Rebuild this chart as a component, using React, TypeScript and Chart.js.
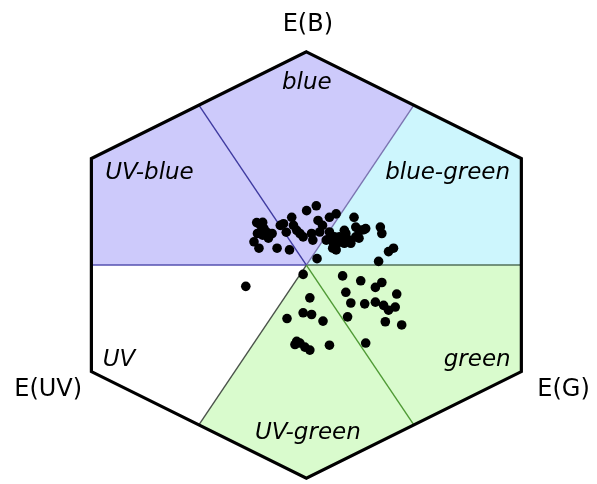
import React, { useEffect, useRef } from "react";
import { Chart, registerables } from "chart.js";

Chart.register(...registerables);

// Colour-hexagon coordinates: x = sin60*(E_G - E_UV), y = E_B - 0.5*(E_G + E_UV)
const pointsX = [
  -0.200, -0.184, -0.171, -0.161, -0.197, -0.211, -0.191, -0.138, -0.118, -0.068,
  -0.092, -0.059, -0.052, -0.039, -0.026, -0.013, 0.001, 0.040, 0.047, 0.021,
  0.054, 0.093, 0.120, 0.080, 0.106, 0.120, 0.133, 0.159, 0.153, 0.172,
  0.192, 0.199, 0.212, 0.232, 0.199, 0.179, 0.298, 0.304, 0.331, 0.351,
  0.291, 0.043, 0.093, 0.113, 0.093, 0.140, 0.219, 0.239, 0.106, -0.105,
  -0.176, 0.026, 0.153, 0.125, 0.212, -0.176, -0.153, -0.081, 0.065,
  -0.244, -0.013, 0.014, -0.078, -0.013, 0.021, 0.067, -0.039, -0.046, -0.006,
  0.014, 0.093, 0.146, 0.219, 0.304, 0.278, 0.159, 0.179, 0.235, 0.278,
  0.311, 0.331, 0.364, 0.358, 0.166, 0.318, 0.384, 0.239, -0.026,
];
const pointsY = [
  0.199, 0.186, 0.171, 0.155, 0.148, 0.109, 0.079, 0.148, 0.079, 0.071,
  0.194, 0.224, 0.186, 0.163, 0.148, 0.132, 0.255, 0.278, 0.209, 0.148,
  0.155, 0.224, 0.240, 0.117, 0.109, 0.071, 0.132, 0.148, 0.102, 0.117,
  0.224, 0.178, 0.163, 0.166, 0.132, 0.102, 0.178, 0.148, 0.063, 0.079,
  0.017, 0.030, 0.155, 0.132, 0.125, 0.125, 0.163, 0.171, 0.079, 0.186,
  0.140, 0.117, 0.163, 0.103, 0.126, 0.200, 0.126, 0.154, 0.186,
  -0.100, -0.044, -0.154, -0.251, -0.224, -0.232, -0.263, -0.358, -0.373, -0.385,
  -0.399, -0.376, -0.051, -0.074, -0.082, -0.105, -0.128, -0.178, -0.182, -0.174,
  -0.189, -0.212, -0.136, -0.197, -0.243, -0.266, -0.281, -0.366, -0.366,
];

// Hexagon vertices (top, upper-right, lower-right, bottom, lower-left, upper-left)
const hexX = [0, 0.866, 0.866, 0, -0.866, -0.866];
const hexY = [1, 0.5, -0.5, -1, -0.5, 0.5];

// Sector boundaries: edge midpoints (right, upper-right, upper-left, left, lower-left, lower-right)
const midX = [0.866, 0.433, -0.433, -0.866, -0.433, 0.433];
const midY = [0, 0.75, 0.75, 0, -0.75, -0.75];
const dividerColors = ["#52705a", "#7a74b0", "#3e3aa0", "#5450b0", "#4a524a", "#4f9a35"];

// Sectors: [start midpoint index, vertex index, end midpoint index]
const sectorNames = ["blue-green", "blue", "UV-blue", "UV", "UV-green", "green"];
const sectorStart = [0, 1, 2, 3, 4, 5];
const sectorVertex = [1, 0, 5, 4, 3, 2];
const sectorEnd = [1, 2, 3, 4, 5, 0];
const sectorColors = ["#cdf6fd", "#cdcafb", "#cdcafb", "#ffffff", "#d9fbcd", "#d9fbcd"];

const sectorLabels = ["blue", "UV-blue", "blue-green", "UV", "green", "UV-green"];
const sectorLabelX = [0.002, -0.632, 0.569, -0.755, 0.688, 0.006];
const sectorLabelY = [0.853, 0.43, 0.43, -0.444, -0.444, -0.789];

const axisLabels = ["E(B)", "E(UV)", "E(G)"];
const axisLabelX = [0.006, -1.04, 1.036];
const axisLabelY = [1.129, -0.586, -0.586];

const hexPlugin = {
  id: "hexBackground",
  beforeDatasetsDraw(chart: any) {
    const { ctx, scales } = chart;
    const sx = (v: number) => scales.x.getPixelForValue(v);
    const sy = (v: number) => scales.y.getPixelForValue(v);
    const cx = sx(0);
    const cy = sy(0);
    ctx.save();
    for (let i = 0; i < sectorNames.length; i++) {
      const a = sectorStart[i];
      const v = sectorVertex[i];
      const b = sectorEnd[i];
      ctx.beginPath();
      ctx.moveTo(cx, cy);
      ctx.lineTo(sx(midX[a]), sy(midY[a]));
      ctx.lineTo(sx(hexX[v]), sy(hexY[v]));
      ctx.lineTo(sx(midX[b]), sy(midY[b]));
      ctx.closePath();
      ctx.fillStyle = sectorColors[i];
      ctx.fill();
    }
    ctx.lineWidth = 1.4;
    for (let i = 0; i < midX.length; i++) {
      ctx.beginPath();
      ctx.moveTo(cx, cy);
      ctx.lineTo(sx(midX[i]), sy(midY[i]));
      ctx.strokeStyle = dividerColors[i];
      ctx.stroke();
    }
    ctx.beginPath();
    for (let i = 0; i < hexX.length; i++) {
      const px = sx(hexX[i]);
      const py = sy(hexY[i]);
      if (i === 0) ctx.moveTo(px, py);
      else ctx.lineTo(px, py);
    }
    ctx.closePath();
    ctx.lineWidth = 3.2;
    ctx.lineJoin = "miter";
    ctx.strokeStyle = "#000000";
    ctx.stroke();
    ctx.textAlign = "center";
    ctx.textBaseline = "middle";
    ctx.fillStyle = "#000000";
    ctx.font = "italic 23px 'DejaVu Sans'";
    for (let i = 0; i < sectorLabels.length; i++) {
      ctx.fillText(sectorLabels[i], sx(sectorLabelX[i]), sy(sectorLabelY[i]));
    }
    ctx.font = "24px 'DejaVu Sans'";
    for (let i = 0; i < axisLabels.length; i++) {
      ctx.fillText(axisLabels[i], sx(axisLabelX[i]), sy(axisLabelY[i]));
    }
    ctx.restore();
  },
};

export default function App() {
  const ref = useRef<HTMLCanvasElement | null>(null);
  useEffect(() => {
    if (!ref.current) return;
    const data = pointsX.map((x, i) => ({ x, y: pointsY[i] }));
    const chart = new Chart(ref.current, {
      type: "scatter",
      data: {
        datasets: [
          {
            data,
            pointRadius: 4.8,
            pointBackgroundColor: "#000000",
            pointBorderWidth: 0,
            pointBorderColor: "#000000",
          },
        ],
      },
      options: {
        animation: false,
        responsive: true,
        maintainAspectRatio: false,
        layout: { padding: 0 },
        plugins: { legend: { display: false }, tooltip: { enabled: false } },
        scales: {
          x: { type: "linear", min: -1.2148, max: 1.1514, display: false },
          y: { type: "linear", min: -1.0046, max: 1.2207, display: false },
        },
      },
      plugins: [hexPlugin],
    });
    return () => chart.destroy();
  }, []);
  return (
    <div style={{ position: "fixed", left: 0, top: 0, width: 597, height: 484, background: "#fff" }}>
      <canvas ref={ref} />
    </div>
  );
}
